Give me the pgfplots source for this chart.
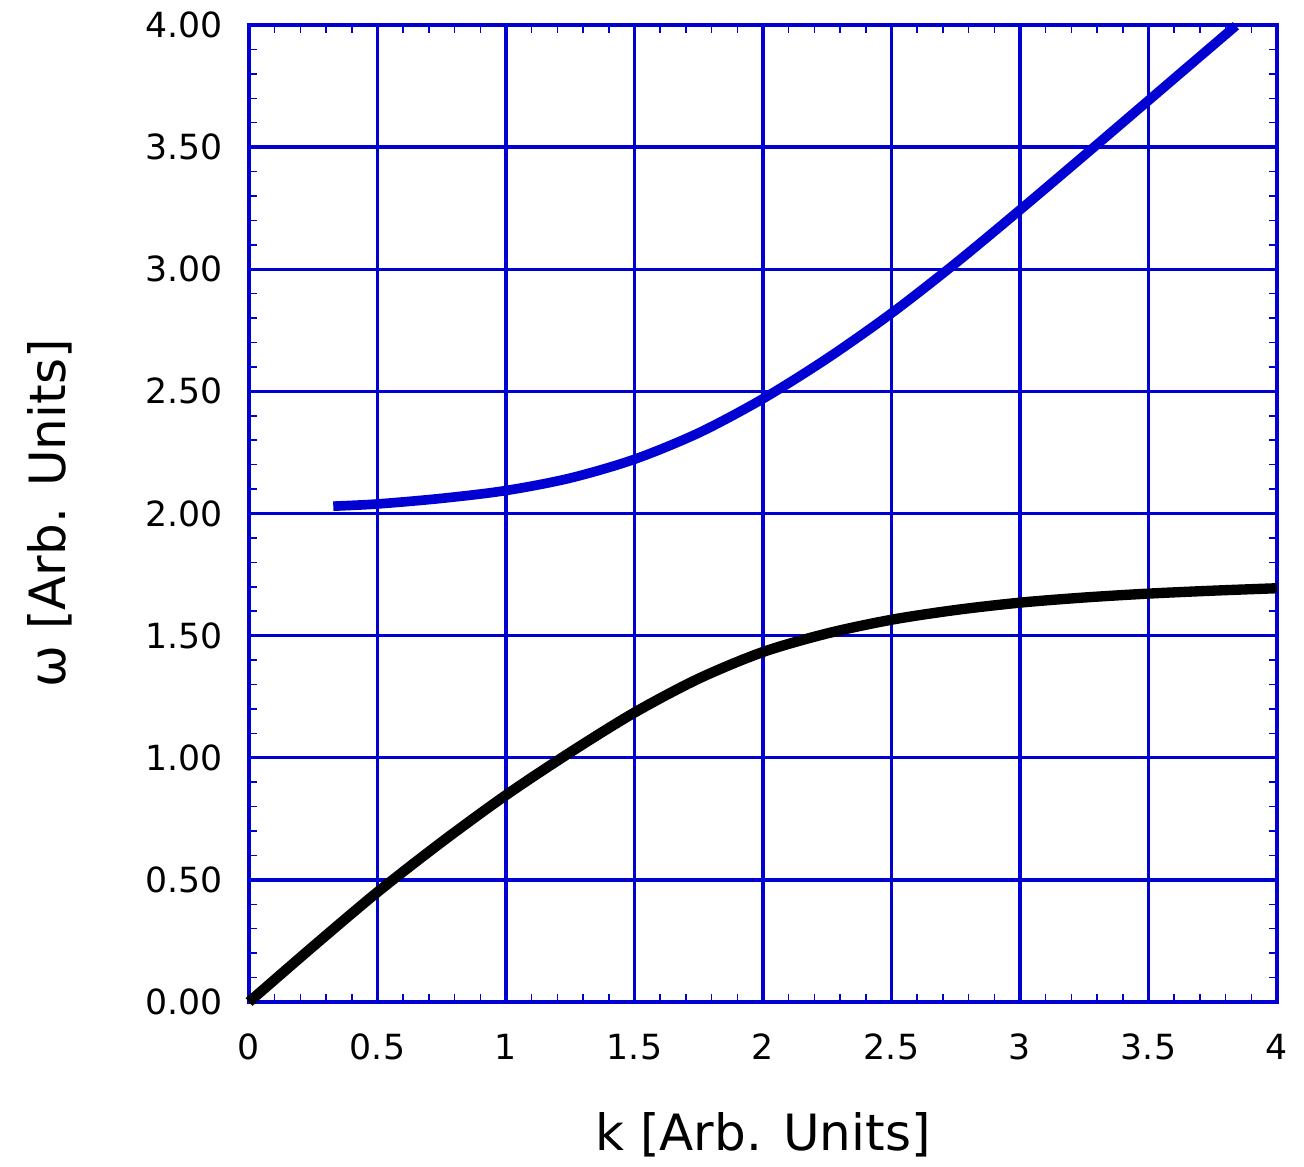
\documentclass[border=0pt]{standalone}
\usepackage{pgfplots}
\pgfplotsset{compat=1.18}
\usepackage{fontspec}
\setmainfont{DejaVu Sans}

\definecolor{kgBlue}{RGB}{0,0,210}

\begin{document}
\begin{tikzpicture}
% page frame, matched to the reference proportions (1 px = 0.3 pt)
\useasboundingbox (-74.7pt,-49.5pt) rectangle (316.5pt,300.6pt);

\begin{axis}[
    scale only axis,
    width=308.4pt, height=293.1pt,
    xmin=0, xmax=4, ymin=0, ymax=4,
    xtick={0,0.5,...,4}, ytick={0,0.5,...,4},
    minor x tick num=4, minor y tick num=4,
    xtick pos=both, ytick pos=both,
    tick align=inside,
    major tick length=2.3pt, minor tick length=2.3pt,
    every tick/.style={kgBlue, line width=0.45pt},
    grid=major,
    major grid style={kgBlue, line width=1pt},
    axis line style={kgBlue, line width=1pt},
    /pgf/number format/assume math mode=true,
    tick label style={font=\fontsize{10.4}{12}\selectfont, black},
    xticklabel style={yshift=-6pt},
    yticklabel style={xshift=-4.5pt,
        /pgf/number format/.cd, fixed, fixed zerofill, precision=2},
    label style={font=\fontsize{15}{18}\selectfont, black},
    xlabel={k [Arb. Units]},
    ylabel={ω [Arb. Units]},
    xlabel shift=9pt,
    ylabel shift=15pt,
    clip=false,
]

% lower branch
\addplot[black, line width=3.1pt, smooth] coordinates {
    (0,0) (0.25,0.228) (0.5,0.450) (0.75,0.655) (1,0.847) (1.25,1.022)
    (1.5,1.185) (1.75,1.324) (2,1.433) (2.25,1.509) (2.5,1.565)
    (2.75,1.605) (3,1.635) (3.25,1.656) (3.5,1.672) (3.75,1.684) (4,1.694)
};

% upper branch
\addplot[kgBlue, line width=2.9pt, smooth] coordinates {
    (0.328,2.030) (0.5,2.039) (0.75,2.062) (1,2.094) (1.25,2.145)
    (1.5,2.222) (1.75,2.330) (2,2.470) (2.25,2.635) (2.5,2.820)
    (2.75,3.025) (3,3.243) (3.25,3.466) (3.5,3.691) (3.75,3.916) (3.84,3.997)
};

\end{axis}
\end{tikzpicture}
\end{document}
